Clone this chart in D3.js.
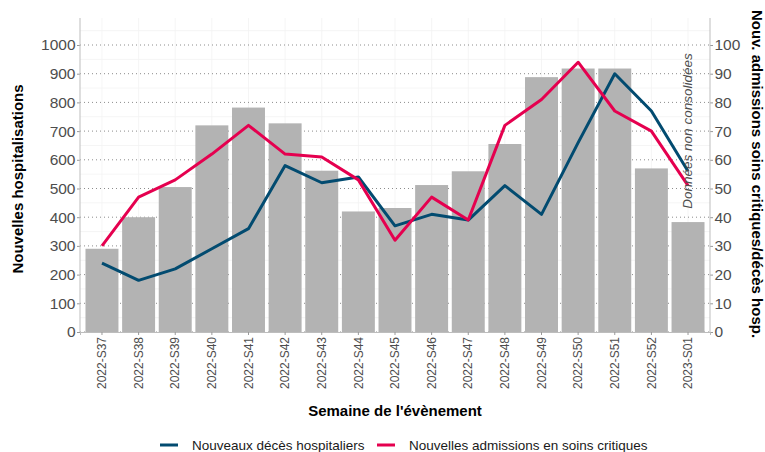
<!DOCTYPE html>
<html>
<head>
<meta charset="utf-8">
<script src="https://cdn.jsdelivr.net/npm/d3@7"></script>
<style>
  body { margin: 0; background: #fff; }
  text { font-family: "Liberation Sans", Arial, sans-serif; }
</style>
</head>
<body>
<div id="chart"></div>
<script>
var weeks = ['2022-S37','2022-S38','2022-S39','2022-S40','2022-S41','2022-S42','2022-S43','2022-S44',
  '2022-S45','2022-S46','2022-S47','2022-S48','2022-S49','2022-S50','2022-S51','2022-S52','2023-S01'];
var hospitalisations = [290, 400, 505, 720, 782, 727, 562, 420, 432, 512, 560, 655, 888, 918, 918, 570, 383];
var deces = [24, 18, 22, 29, 36, 58, 52, 54, 37, 41, 39, 51, 41, 66, 90, 77, 56];
var admissions = [30, 47, 53, 62, 72, 62, 61, 53, 32, 47, 39, 72, 81, 94, 77, 70, 51];
var leftTicks = [0, 100, 200, 300, 400, 500, 600, 700, 800, 900, 1000];
var rightTicks = [0, 10, 20, 30, 40, 50, 60, 70, 80, 90, 100];

var width = 765, height = 452;
var margin = {top: 18, right: 55, bottom: 120, left: 80};
var x0 = margin.left, x1 = width - margin.right;

var svg = d3.select('#chart').append('svg')
  .attr('width', width)
  .attr('height', height);

var x = d3.scaleBand()
  .domain(weeks)
  .range([x0, x1])
  .paddingInner(0.1)
  .paddingOuter(0.15);

var y = d3.scaleLinear().domain([0, 1000]).range([332, 45]);
var y2 = d3.scaleLinear().domain([0, 100]).range([332, 45]);

// faint minor grid
var minor = d3.range(50, 1100, 100);
svg.append('g').selectAll('line').data(minor).enter().append('line')
  .attr('x1', x0).attr('x2', x1)
  .attr('y1', function(d) { return y(d); }).attr('y2', function(d) { return y(d); })
  .attr('stroke', '#f2f2f2').attr('stroke-width', 0.8);
svg.append('g').selectAll('line').data(weeks).enter().append('line')
  .attr('x1', function(d) { return x(d) + x.bandwidth() / 2; })
  .attr('x2', function(d) { return x(d) + x.bandwidth() / 2; })
  .attr('y1', y(0)).attr('y2', margin.top)
  .attr('stroke', '#f2f2f2').attr('stroke-width', 0.8);

// dotted major grid
svg.append('g').selectAll('line').data(leftTicks).enter().append('line')
  .attr('x1', x0).attr('x2', x1)
  .attr('y1', function(d) { return y(d); }).attr('y2', function(d) { return y(d); })
  .attr('stroke', '#8c8c8c').attr('stroke-width', 1)
  .attr('stroke-dasharray', '1,3');

// bars
svg.append('g').selectAll('rect').data(weeks).enter().append('rect')
  .attr('x', function(d) { return x(d); })
  .attr('width', x.bandwidth())
  .attr('y', function(d, i) { return y(hospitalisations[i]); })
  .attr('height', function(d, i) { return y(0) - y(hospitalisations[i]); })
  .attr('fill', '#b3b3b3');

// lines
var line = d3.line()
  .x(function(d, i) { return x(weeks[i]) + x.bandwidth() / 2; })
  .y(function(d) { return y2(d); });

svg.append('path').datum(deces)
  .attr('d', line).attr('fill', 'none')
  .attr('stroke', '#024b70').attr('stroke-width', 3)
  .attr('stroke-linejoin', 'round');

svg.append('path').datum(admissions)
  .attr('d', line).attr('fill', 'none')
  .attr('stroke', '#e5004f').attr('stroke-width', 3)
  .attr('stroke-linejoin', 'round');

// annotation
svg.append('text')
  .attr('transform', 'translate(692,131) rotate(-90)')
  .attr('text-anchor', 'middle')
  .attr('font-size', '13.5px')
  .attr('font-style', 'italic')
  .attr('fill', '#4d4d4d')
  .text('Données non consolidées');

// axes
var axisColor = '#bdbdbd';
var left = svg.append('g')
  .attr('transform', 'translate(' + x0 + ',0)')
  .call(d3.axisLeft(y).tickValues(leftTicks).tickFormat(d3.format('d')).tickSize(3).tickPadding(1.5));
var right = svg.append('g')
  .attr('transform', 'translate(' + x1 + ',0)')
  .call(d3.axisRight(y2).tickValues(rightTicks).tickFormat(d3.format('d')).tickSize(3).tickPadding(1.5));
var bottom = svg.append('g')
  .attr('transform', 'translate(0,' + y(0) + ')')
  .call(d3.axisBottom(x).tickSize(3).tickPadding(3));

[left, right].forEach(function(g) {
  g.select('.domain').remove();
  g.append('line')
    .attr('x1', 0).attr('x2', 0)
    .attr('y1', y(0)).attr('y2', margin.top)
    .attr('stroke', axisColor);
  g.selectAll('.tick line').attr('stroke', '#999');
  g.selectAll('.tick text')
    .attr('font-size', '15.5px')
    .attr('font-family', '"Liberation Sans", Arial, sans-serif')
    .attr('fill', '#4d4d4d');
});

bottom.select('.domain').attr('stroke', axisColor);
bottom.selectAll('.tick line').attr('stroke', '#999');
bottom.selectAll('.tick text')
  .attr('font-size', '12px')
  .attr('font-family', '"Liberation Sans", Arial, sans-serif')
  .attr('fill', '#4d4d4d')
  .attr('transform', 'rotate(-90)')
  .attr('text-anchor', 'end')
  .attr('x', -5)
  .attr('y', 0)
  .attr('dy', '0.35em');

// titles
svg.append('text')
  .attr('transform', 'translate(23,179) rotate(-90)')
  .attr('text-anchor', 'middle')
  .attr('font-size', '15px')
  .attr('font-weight', 'bold')
  .attr('fill', '#000')
  .text('Nouvelles hospitalisations');

svg.append('text')
  .attr('transform', 'translate(752,174) rotate(90)')
  .attr('text-anchor', 'middle')
  .attr('font-size', '15px')
  .attr('font-weight', 'bold')
  .attr('fill', '#000')
  .text('Nouv. admissions soins critiques/décès hosp.');

svg.append('text')
  .attr('x', (x0 + x1) / 2)
  .attr('y', 416)
  .attr('text-anchor', 'middle')
  .attr('font-size', '15px')
  .attr('font-weight', 'bold')
  .attr('fill', '#000')
  .text("Semaine de l'évènement");

// legend
var legendItems = [
  {label: 'Nouveaux décès hospitaliers', color: '#024b70', x: 160},
  {label: 'Nouvelles admissions en soins critiques', color: '#e5004f', x: 377}
];
var legend = svg.append('g').selectAll('g').data(legendItems).enter().append('g')
  .attr('transform', function(d) { return 'translate(' + d.x + ',445)'; });
legend.append('line')
  .attr('x1', 0).attr('x2', 18)
  .attr('stroke', function(d) { return d.color; })
  .attr('stroke-width', 3);
legend.append('text')
  .attr('x', 32)
  .attr('dy', '0.35em')
  .attr('font-size', '13.5px')
  .attr('fill', '#1a1a1a')
  .text(function(d) { return d.label; });
</script>
</body>
</html>
